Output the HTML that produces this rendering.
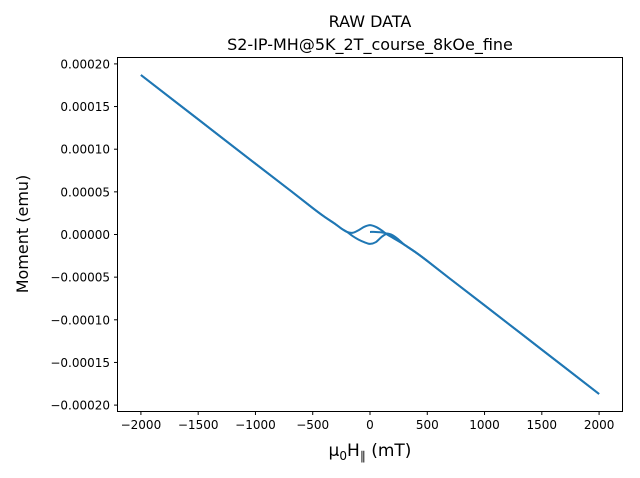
<!DOCTYPE html>
<html><head><meta charset="utf-8"><style>
body{margin:0;background:#fff}
svg{display:block;font-family:"DejaVu Sans","Liberation Sans",sans-serif}
</style></head><body>
<svg id="chart" width="640" height="478" xmlns="http://www.w3.org/2000/svg">
<rect width="640" height="478" fill="#fff"/>
<text x="370" y="27" text-anchor="middle" font-size="16">RAW DATA</text>
<text x="370" y="50" text-anchor="middle" font-size="16">S2-IP-MH@5K_2T_course_8kOe_fine</text>
<g id="plot"></g>
<rect x="117.5" y="57.5" width="505" height="354" fill="none" stroke="#000" stroke-width="1"/>
<g id="xt"></g>
<g id="yt"></g>
<text x="370" y="456" text-anchor="middle" font-size="17">μ<tspan font-size="12" dy="4">0</tspan><tspan dy="-4">H</tspan><tspan font-size="12" dy="4">∥</tspan><tspan dy="-4"> (mT)</tspan></text>
<text transform="translate(28,234) rotate(-90)" text-anchor="middle" font-size="16">Moment (emu)</text>
</svg>
<script>
const xTicks=[-2000,-1500,-1000,-500,0,500,1000,1500,2000];
const yTicks=[-0.0002,-0.00015,-0.0001,-0.00005,0,0.00005,0.0001,0.00015,0.0002];
const descX=[2000,1500,1000,700,500,400,300,200,150,100,50,0,-50,-100,-150,-200,-250,-300,-400,-500,-700,-1000,-1500,-2000];
const descY=[-187,-135,-83,-52,-31,-21,-12,-4,0,5,9,11,9,5,2,3,7,12,21,31,52,83,135,187];
const ascX=[-2000,-1500,-1000,-700,-500,-400,-300,-250,-200,-150,-100,-50,0,50,100,150,200,250,300,400,500,700,1000,1500,2000];
const ascY=[187,135,83,52,31,21,12,7,3,-2,-6,-9,-11,-9,-3,1,-1,-6,-12,-21,-31,-52,-83,-135,-187];
const initX=[0,50,100,150,200,250,300,400,500];
const initY=[3,3,2.5,1,-2,-7,-12,-21,-31];
const NS="http://www.w3.org/2000/svg";
const X0=118,X1=622,xmin=-2200,xmax=2200;
const Y0=57.5,Y1=411.5,ymin=-0.0002075,ymax=0.0002075;
const sx=v=>X0+(v-xmin)/(xmax-xmin)*(X1-X0);
const sy=v=>Y1-(v-ymin)/(ymax-ymin)*(Y1-Y0);
function mk(t,a,p){const e=document.createElementNS(NS,t);for(const k in a)e.setAttribute(k,a[k]);p.appendChild(e);return e;}
const plot=document.getElementById('plot');
function line(xs,ys,name){
  const P=xs.map((x,i)=>[sx(x),sy(ys[i]*1e-6)]);
  let d='M'+P[0][0].toFixed(2)+' '+P[0][1].toFixed(2);
  for(let i=0;i<P.length-1;i++){
    const p0=P[Math.max(i-1,0)],p1=P[i],p2=P[i+1],p3=P[Math.min(i+2,P.length-1)];
    const c1=[p1[0]+(p2[0]-p0[0])/6,p1[1]+(p2[1]-p0[1])/6];
    const c2=[p2[0]-(p3[0]-p1[0])/6,p2[1]-(p3[1]-p1[1])/6];
    d+=' C'+c1.map(v=>v.toFixed(2)).join(' ')+' '+c2.map(v=>v.toFixed(2)).join(' ')+' '+p2[0].toFixed(2)+' '+p2[1].toFixed(2);
  }
  const p=mk('path',{d:d,fill:'none',stroke:'#1f77b4','stroke-width':2,'stroke-linejoin':'round'},plot);
  
  
}
line(descX,descY,'descending-branch');
line(ascX,ascY,'ascending-branch');
line(initX,initY,'initial-curve');
const xt=document.getElementById('xt');
xTicks.forEach(v=>{
  const x=sx(v);
  const l=mk('line',{x1:x,x2:x,y1:411.5,y2:415,stroke:'#000'},xt);
  
  
  const t=mk('text',{x:x,y:429,'text-anchor':'middle','font-size':12},xt);
  t.textContent=String(v).replace('-','−');
  
  
});
const yt=document.getElementById('yt');
yTicks.forEach(v=>{
  const y=sy(v);
  const l=mk('line',{x1:114,x2:117.5,y1:y,y2:y,stroke:'#000'},yt);
  
  
  const t=mk('text',{x:110,y:y+4.5,'text-anchor':'end','font-size':12},yt);
  t.textContent=v.toFixed(5).replace('-','−');
  
  
});
</script>
</body></html>
